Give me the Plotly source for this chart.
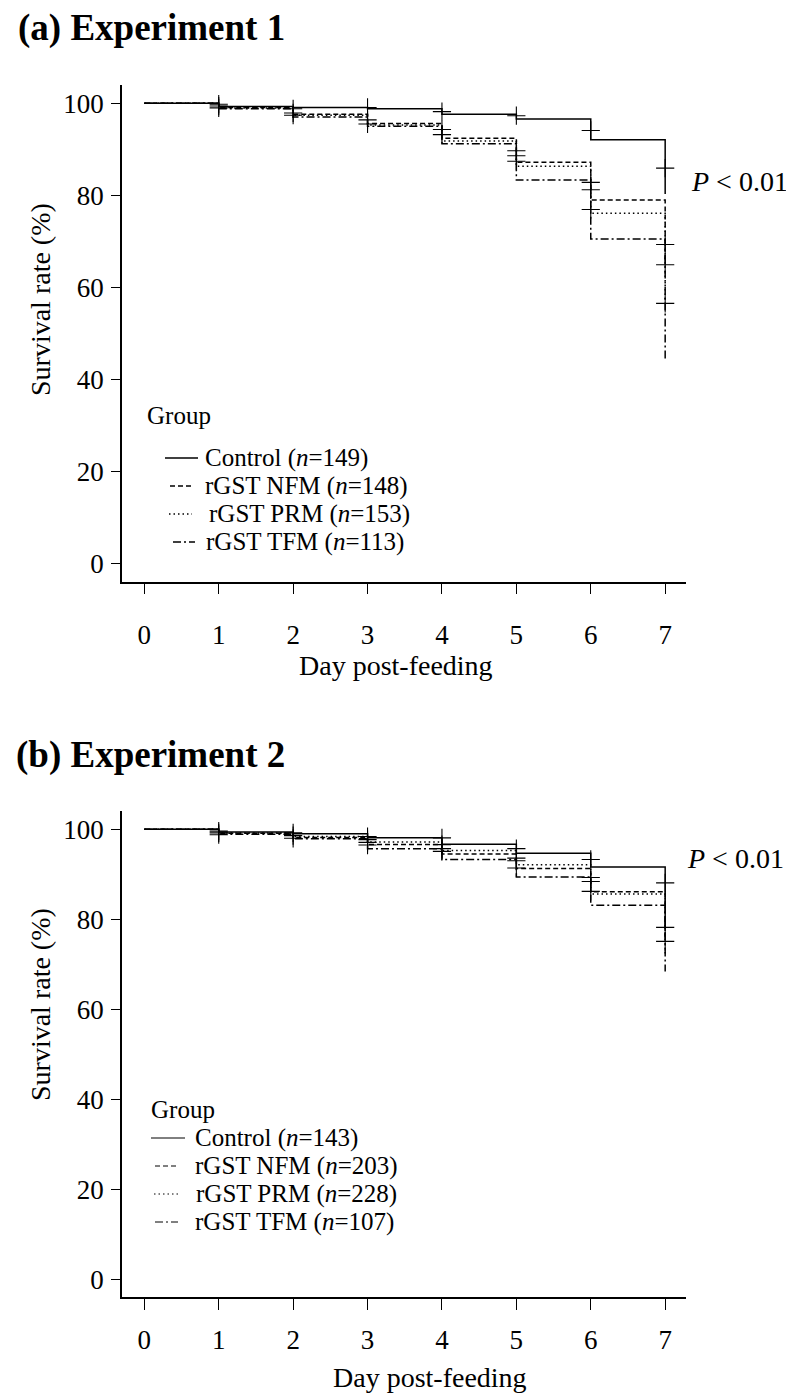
import plotly.graph_objects as go

W, H = 794, 1396
OFF = 8  # the page body margin shifts the figure by 8 px
FONT = "Liberation Serif"

days = [0, 1, 2, 3, 4, 5, 6, 7]
groups = ["Control", "rGST NFM", "rGST PRM", "rGST TFM"]
dashes = ["solid", "5px,3px", "1.5px,3px", "8px,3px,2px,3px"]

# experiment 1 (survival %, value after each day, last = drop at day 7)
control_a = [100, 99.3, 99.1, 98.8, 97.6, 96.6, 92.1, 80.3]
nfm_a = [100, 99.1, 97.6, 95.6, 92.4, 87.2, 79.0, 65.0]
prm_a = [100, 99.0, 97.4, 95.3, 91.8, 86.3, 76.1, 57.0]
tfm_a = [100, 98.8, 97.0, 95.0, 91.2, 83.3, 70.5, 44.0]
n_a = [149, 148, 153, 113]
cens_a_day = [1, 1, 1, 2, 2, 2, 3, 3, 3, 4, 4, 4, 5, 5, 5, 5, 6, 6, 6, 6, 7, 7, 7, 7]
cens_a_val = [99.8, 99.4, 99.0, 98.8, 97.9, 97.4, 99.1, 96.4, 95.5, 98.2, 94.3, 93.2,
              97.3, 89.7, 88.6, 87.4, 94.1, 82.8, 81.2, 76.9, 85.9, 69.3, 64.9, 56.5]

# experiment 2
control_b = [100, 99.4, 99.0, 98.1, 96.7, 94.7, 91.6, 78.0]
nfm_b = [100, 99.1, 98.2, 96.6, 94.5, 91.3, 86.1, 75.0]
prm_b = [100, 99.2, 98.4, 97.2, 95.3, 92.1, 85.6, 72.0]
tfm_b = [100, 98.9, 97.9, 95.7, 93.3, 89.4, 83.1, 68.4]
n_b = [143, 203, 228, 107]
cens_b_day = [1, 1, 1, 2, 2, 2, 3, 3, 3, 3, 4, 4, 4, 4, 5, 5, 5, 5, 6, 6, 6, 6, 7, 7, 7]
cens_b_val = [99.6, 99.2, 98.8, 99.2, 98.6, 98.0, 98.4, 97.7, 97.1, 96.5, 98.1, 96.6, 95.7, 95.1,
              95.7, 93.6, 93.0, 91.4, 93.3, 89.3, 88.4, 86.2, 88.1, 78.2, 75.1]


def px(x):
    return (x - OFF) / W


def py(y):
    return 1 - (y - OFF) / H


fig = go.Figure()

panels = [
    ("x", "y", [control_a, nfm_a, prm_a, tfm_a], cens_a_day, cens_a_val),
    ("x2", "y2", [control_b, nfm_b, prm_b, tfm_b], cens_b_day, cens_b_val),
]
for xa, ya, curves, cd, cv in panels:
    for g, surv, dash in zip(groups, curves, dashes):
        fig.add_scatter(x=days, y=surv, mode="lines", line_shape="hv", name=g,
                        line=dict(color="black", width=1.5, dash=dash),
                        xaxis=xa, yaxis=ya, showlegend=False)
    fig.add_scatter(x=cd, y=cv, mode="markers", xaxis=xa, yaxis=ya, showlegend=False,
                    marker=dict(symbol="cross-thin", size=13, line=dict(width=1.1, color="black")))

axis_common = dict(showline=True, linecolor="black", linewidth=1.5, ticks="outside",
                   tickcolor="black", tickwidth=1, showgrid=False, zeroline=False,
                   tickfont=dict(family=FONT, size=27, color="black"))
xdom = [px(122), px(686)]
yt = [0, 20, 40, 60, 80, 100]
fig.update_layout(
    xaxis=dict(domain=xdom, range=[-0.3, 7.28], tickvals=days, ticklen=11,
               ticklabelstandoff=17, anchor="y", **axis_common),
    yaxis=dict(domain=[py(581.7), py(84.9)], range=[-4, 104], tickvals=yt,
               ticklen=9, ticklabelstandoff=2, anchor="x", **axis_common),
    xaxis2=dict(domain=xdom, range=[-0.3, 7.28], tickvals=days, ticklen=11,
                ticklabelstandoff=7, anchor="y2", **axis_common),
    yaxis2=dict(domain=[py(1297.3), py(811.3)], range=[-4, 104], tickvals=yt,
                ticklen=9, ticklabelstandoff=2, anchor="x2", **axis_common),
    width=W, height=H,
    margin=dict(l=0, r=0, t=0, b=0),
    paper_bgcolor="white", plot_bgcolor="white",
    font=dict(family=FONT, size=28, color="black"),
)

ann = []
# panel titles
ann.append(dict(x=px(16), y=py(28), text="<b>(a) Experiment 1</b>", xanchor="left", font_size=37))
ann.append(dict(x=px(14), y=py(755), text="<b>(b) Experiment 2</b>", xanchor="left", font_size=37))
# axis titles
ann.append(dict(x=px(40), y=py(300), text="Survival rate (%)", textangle=-90))
ann.append(dict(x=px(40), y=py(1005), text="Survival rate (%)", textangle=-90))
ann.append(dict(x=px(396), y=py(665), text="Day post-feeding"))
ann.append(dict(x=px(430), y=py(1377), text="Day post-feeding"))
# p values
ann.append(dict(x=px(689), y=py(181), text="<i>P</i> < 0.01", xanchor="left"))
ann.append(dict(x=px(685), y=py(858), text="<i>P</i> < 0.01", xanchor="left"))

# legends
shapes = []
leg_a = dict(title=(145, 415), rows=[458, 486, 514, 542],
             lines=[(165, 198), (170, 193), (169, 192), (173, 195)], text_x=[203, 203, 207, 204])
leg_b = dict(title=(149, 1109), rows=[1138, 1166, 1194, 1222],
             lines=[(151, 185), (155, 178), (154, 178), (155, 178)], text_x=[193, 193, 194, 193])
for leg, ns, lw in [(leg_a, n_a, 1.5), (leg_b, n_b, 1.0)]:
    tx, ty = leg["title"]
    ann.append(dict(x=px(tx), y=py(ty), text="Group", xanchor="left", font_size=25))
    for g, n, row, (x0, x1), txx, dash in zip(groups, ns, leg["rows"], leg["lines"], leg["text_x"], dashes):
        ann.append(dict(x=px(txx), y=py(row), text=f"{g} (<i>n</i>={n})", xanchor="left", font_size=25))
        shapes.append(dict(type="line", xref="paper", yref="paper", x0=px(x0), x1=px(x1),
                           y0=py(row), y1=py(row), line=dict(color="black", width=lw, dash=dash)))

for a in ann:
    a.update(xref="paper", yref="paper", showarrow=False)
    a.setdefault("xanchor", "center")
    a["yanchor"] = "middle"
fig.update_layout(annotations=ann, shapes=shapes)

fig.write_html("out.html")
